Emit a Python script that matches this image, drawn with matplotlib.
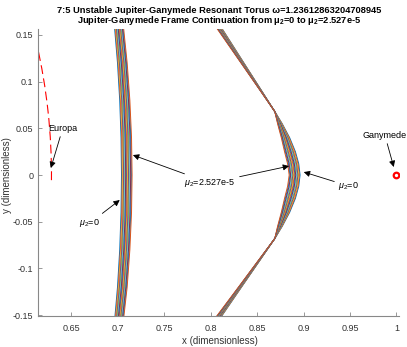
import numpy as np
import matplotlib
matplotlib.use("Agg")
import matplotlib.pyplot as plt
from matplotlib.patches import Arc

plt.rcParams['font.family'] = ['Liberation Sans', 'DejaVu Sans']
plt.rcParams['mathtext.fontset'] = 'custom'
plt.rcParams['mathtext.rm'] = 'Liberation Sans'
plt.rcParams['mathtext.it'] = 'Liberation Sans:italic'
plt.rcParams['mathtext.bf'] = 'Liberation Sans:bold'

# data
# left torus branch: edge curves for mu2=0 and mu2=2.527e-5
left_y = [0.157, 0.12, 0.08, 0.04, 0.0, -0.04, -0.08, -0.12, -0.152]
left_x_mu0 = [0.6965, 0.6996, 0.7020, 0.7034, 0.7039, 0.7034, 0.7020, 0.6996, 0.6968]
left_x_mu1 = [0.7062, 0.7100, 0.7129, 0.7147, 0.7153, 0.7147, 0.7129, 0.7100, 0.7064]

# right torus branch
right_y = [0.158, 0.12, 0.09, 0.068, 0.055, 0.04, 0.025, 0.012, 0.0,
           -0.012, -0.025, -0.04, -0.055, -0.068, -0.09, -0.12, -0.153]
right_x_mu0 = [0.8115, 0.8358, 0.8550, 0.8690, 0.8770, 0.8850, 0.8912, 0.8948, 0.8962,
               0.8948, 0.8912, 0.8850, 0.8770, 0.8690, 0.8539, 0.8332, 0.8105]
right_x_mu1 = [0.8060, 0.8326, 0.8536, 0.8690, 0.8720, 0.8760, 0.8795, 0.8828, 0.8845,
               0.8828, 0.8795, 0.8760, 0.8720, 0.8690, 0.8524, 0.8299, 0.8050]

# continuation steps (fraction of final mu2)
mu2_frac = [0.0, 0.067, 0.133, 0.2, 0.267, 0.333, 0.4, 0.467,
            0.533, 0.6, 0.667, 0.733, 0.8, 0.867, 0.933, 1.0]

europa_r = 0.6285
ganymede_x = 1.0
ganymede_y = 0.0

matlab_colors = ['#0072BD', '#D95319', '#EDB120', '#7E2F8E',
                 '#77AC30', '#4DBEEE', '#A2142F']

fig = plt.figure(figsize=(4.07, 3.47), dpi=100)
ax = fig.add_axes([0.0934, 0.0893, 0.8875, 0.826])

ly = np.array(left_y)
l0 = np.array(left_x_mu0)
l1 = np.array(left_x_mu1)
ry = np.array(right_y)
r0 = np.array(right_x_mu0)
r1 = np.array(right_x_mu1)

for i, f in enumerate(mu2_frac):
    c = matlab_colors[i % len(matlab_colors)]
    ax.plot(l0 + f * (l1 - l0), ly, color=c, lw=0.7)
    ax.plot(r0 + f * (r1 - r0), ry, color=c, lw=0.7)

# Europa orbit (partial arc) and Ganymede
ax.add_patch(Arc((0, 0), 2 * europa_r, 2 * europa_r, theta1=-0.5, theta2=13,
                 color='red', lw=0.8, linestyle=(0, (8, 4))))
ax.plot(ganymede_x, ganymede_y, 'o', ms=4, mec='red', mfc='white', mew=1.6)

arrow = dict(arrowstyle='-|>', color='black', lw=0.6, mutation_scale=9,
             shrinkA=1, shrinkB=0)
fs = 6.5
ax.annotate('Europa', xy=(0.6278, 0.0075), xytext=(0.6407, 0.0503),
            ha='center', va='center', fontsize=fs, arrowprops=arrow)
ax.annotate(r'$\mu_2$=0', xy=(0.702, -0.0268), xytext=(0.6698, -0.0514),
            ha='center', va='center', fontsize=fs, arrowprops=arrow)
ax.annotate(r'$\mu_2$=2.527e-5', xy=(0.7162, 0.0214), xytext=(0.7991, -0.0086),
            ha='center', va='center', fontsize=fs, arrowprops=arrow)
ax.annotate(r'$\mu_2$=2.527e-5', xy=(0.8844, 0.0096), xytext=(0.7991, -0.0086),
            ha='center', va='center', fontsize=fs, color='none', arrowprops=arrow)
ax.annotate(r'$\mu_2$=0', xy=(0.9002, 0.0032), xytext=(0.9487, -0.0118),
            ha='center', va='center', fontsize=fs, arrowprops=arrow)
ax.annotate('Ganymede', xy=(0.9971, 0.0086), xytext=(0.9875, 0.0428),
            ha='center', va='center', fontsize=fs, arrowprops=arrow)

ax.set_xlim(0.614, 1.003)
ax.set_ylim(-0.151, 0.156)
ax.set_xticks([0.65, 0.7, 0.75, 0.8, 0.85, 0.9, 0.95, 1])
ax.set_xticklabels(['0.65', '0.7', '0.75', '0.8', '0.85', '0.9', '0.95', '1'])
ax.set_yticks([-0.15, -0.1, -0.05, 0, 0.05, 0.1, 0.15])
ax.set_yticklabels(['-0.15', '-0.1', '-0.05', '0', '0.05', '0.1', '0.15'])
for s in ['top', 'right']:
    ax.spines[s].set_visible(False)
for s in ['left', 'bottom']:
    ax.spines[s].set_color('#888888')
    ax.spines[s].set_linewidth(0.8)
ax.tick_params(direction='in', length=3, width=0.6, color='#888888',
               labelsize=6.5, labelcolor='#333333')
ax.tick_params(axis='x', pad=6)
ax.tick_params(axis='y', pad=3.5)
ax.set_xlabel('x (dimensionless)', fontsize=7, color='#333333')
ax.set_ylabel('y (dimensionless)', fontsize=7, color='#333333')
ax.xaxis.set_label_coords(0.5043, -0.068)
ax.yaxis.set_label_coords(-0.072, 0.492)

fig.text(0.538, 0.970, '7:5 Unstable Jupiter-Ganymede Resonant Torus \u03c9=1.23612863204708945',
         ha='center', va='center', fontsize=6.7, fontweight='bold')
fig.text(0.538, 0.941, r'Jupiter-Ganymede Frame Continuation from $\mathbf{\mu_2}$=0 to $\mathbf{\mu_2}$=2.527e-5',
         ha='center', va='center', fontsize=6.7, fontweight='bold')

fig.savefig('out.png', dpi=100)
